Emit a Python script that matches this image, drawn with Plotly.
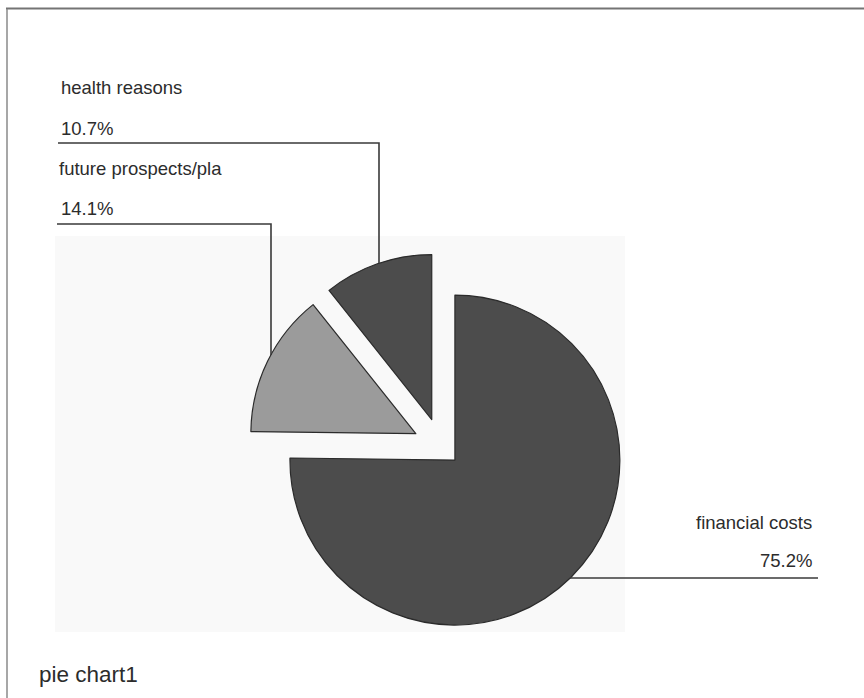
import plotly.graph_objects as go

# Reasons and their shares (percent)
categories = ["financial costs", "future prospects/pla", "health reasons"]
shares = [75.2, 14.1, 10.7]
share_labels = ["75.2%", "14.1%", "10.7%"]
chart_title = "pie chart1"

W, H = 864, 698
slice_colors = ["#4c4c4c", "#9b9b9b", "#4c4c4c"]
pulls = [0.12, 0.17, 0.17]

fig = go.Figure()

fig.add_trace(go.Pie(
    labels=categories,
    values=shares,
    sort=False,
    direction="clockwise",
    rotation=0,
    pull=pulls,
    textinfo="none",
    hoverinfo="label+percent",
    marker=dict(colors=slice_colors, line=dict(color="#2b2b2b", width=1.2)),
    domain=dict(x=[248 / W, 634 / W], y=[1 - 639 / H, 1 - 253 / H]),
    showlegend=False,
))

# pixel-space helper axes for frame, leader lines and labels
fig.update_layout(
    width=W, height=H,
    margin=dict(l=0, r=0, t=0, b=0),
    paper_bgcolor="white",
    plot_bgcolor="rgba(0,0,0,0)",
    xaxis=dict(range=[0, W], visible=False, fixedrange=True, domain=[0, 1]),
    yaxis=dict(range=[H, 0], visible=False, fixedrange=True, domain=[0, 1]),
)

shapes = []
# faint chart-area panel
shapes.append(dict(type="rect", x0=55, x1=625, y0=236, y1=632, xref="x", yref="y",
                   fillcolor="#f9f9f9", line=dict(width=0), layer="below"))
# outer frame (top and left edges)
shapes.append(dict(type="line", x0=6, x1=W, y0=8.5, y1=8.5, xref="x", yref="y",
                   line=dict(color="#747474", width=2)))
shapes.append(dict(type="line", x0=7, x1=7, y0=9, y1=H, xref="x", yref="y",
                   line=dict(color="#8a8a8a", width=1.5)))

lead = dict(color="#3a3a3a", width=1.6)
# health reasons leader
shapes.append(dict(type="path", path="M 58 143 L 379 143 L 379 263",
                   xref="x", yref="y", line=lead))
# future prospects leader
shapes.append(dict(type="path", path="M 57 224 L 271 224 L 271 355",
                   xref="x", yref="y", line=lead))
# financial costs leader
shapes.append(dict(type="line", x0=570, x1=818, y0=578, y1=578,
                   xref="x", yref="y", line=lead))
fig.update_layout(shapes=shapes)

font = dict(family="Liberation Sans, Arial, sans-serif", size=18.5, color="#2c2c2c")
ann = []
ann.append(dict(x=59, y=87, text=categories[2], xanchor="left", yanchor="middle",
                showarrow=False, xref="x", yref="y", font=font))
ann.append(dict(x=59, y=128, text=share_labels[2], xanchor="left", yanchor="middle",
                showarrow=False, xref="x", yref="y", font=font))
ann.append(dict(x=57, y=168, text=categories[1], xanchor="left", yanchor="middle",
                showarrow=False, xref="x", yref="y", font=font))
ann.append(dict(x=59, y=208, text=share_labels[1], xanchor="left", yanchor="middle",
                showarrow=False, xref="x", yref="y", font=font))
ann.append(dict(x=814, y=522, text=categories[0], xanchor="right", yanchor="middle",
                showarrow=False, xref="x", yref="y", font=font))
ann.append(dict(x=814, y=560, text=share_labels[0], xanchor="right", yanchor="middle",
                showarrow=False, xref="x", yref="y", font=font))
ann.append(dict(x=37, y=674, text=chart_title, xanchor="left", yanchor="middle",
                showarrow=False, xref="x", yref="y",
                font=dict(family="Liberation Sans, Arial, sans-serif", size=22.5, color="#2c2c2c")))
fig.update_layout(annotations=ann)

fig.write_html("out.html")
